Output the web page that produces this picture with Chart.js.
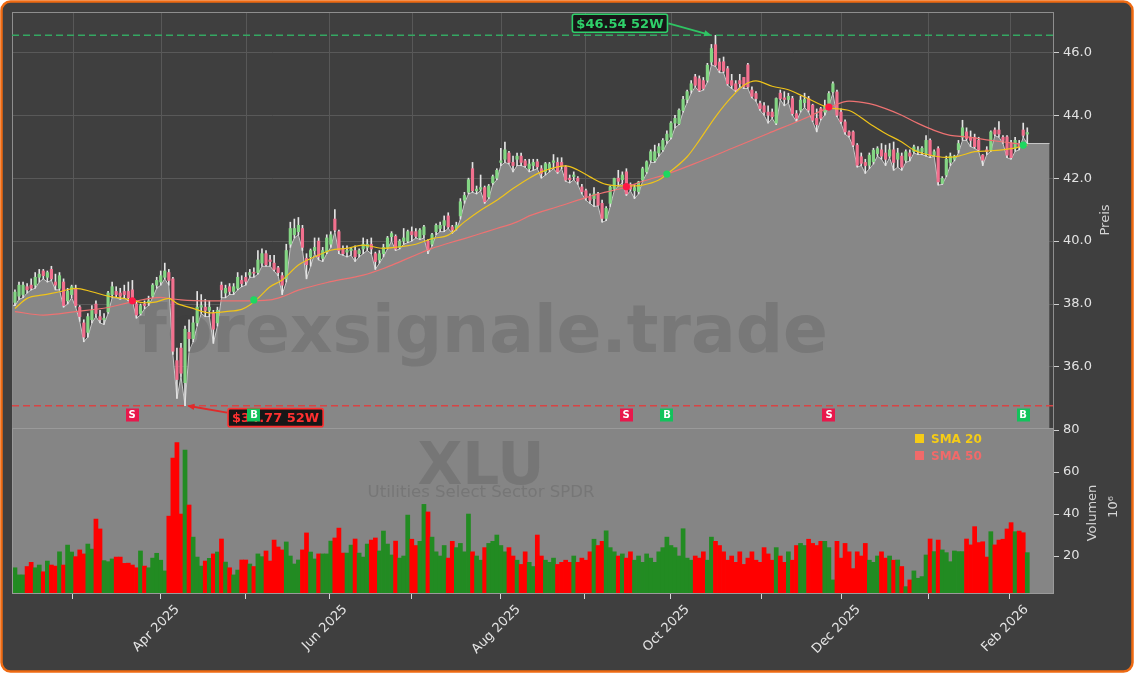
<!DOCTYPE html>
<html>
<head>
<meta charset="utf-8">
<title>XLU - Utilities Select Sector SPDR</title>
<script src="https://cdn.jsdelivr.net/npm/chart.js@4.4.1/dist/chart.umd.min.js"></script>
<style>
  html, body { margin: 0; padding: 0; background: #ffffff; }
  #wrap { width: 1134px; height: 673px; }
</style>
</head>
<body>
<div id="wrap"><canvas id="chart" width="1134" height="673"></canvas></div>
<script>
// ---- data ----
const firstDay = '2025-02-07';
const lastDay = '2026-02-06';
const holidays = ['2025-02-17', '2025-04-18', '2025-05-26', '2025-06-19', '2025-07-04',
    '2025-09-01', '2025-11-27', '2025-12-25', '2026-01-01', '2026-01-19'];

const opens = [
    38.05, 38.25, 38.3, 38.55, 38.6, 38.6, 38.85, 39.05, 38.85, 39.1, 38.7, 38.5, 38.7, 38.1, 38.3,
    38.5, 37.9, 37.4, 37.1, 37.5, 38.0, 37.6, 37.5, 37.75, 38.3, 38.4, 38.35, 38.4, 38.4, 38.45, 38.0, 37.7, 38.0, 38.05, 38.25, 38.6,
    38.7, 38.85, 39.0, 38.8, 36.2, 36.6, 35.5, 37.1, 36.9, 37.4, 37.9, 37.9, 37.8, 37.7, 37.4, 38.6, 38.35, 38.55, 38.4, 38.5, 38.75,
    38.85, 38.92, 39.0, 39.0, 39.3, 39.6, 39.4, 39.3, 39.15, 38.9, 38.8, 39.9, 40.2, 40.3, 40.4, 39.45, 39.5, 39.7, 40.0, 39.45, 39.65,
    39.9, 40.7, 40.3, 39.75, 39.65, 39.7, 39.7, 39.6, 39.75, 39.8, 39.9, 39.6, 39.4, 39.6, 39.8, 40.14, 40.15, 39.8, 40.0, 40.0,
    40.3, 40.3, 40.1, 40.2, 40.0, 39.9, 40.3, 40.4, 40.5, 40.8, 40.45, 40.4, 40.8, 41.3, 41.55, 42.3, 41.6, 41.65, 41.7, 41.4, 41.85, 42.0,
    42.5, 42.6, 42.8, 42.5, 42.6, 42.7, 42.55, 42.3, 42.4, 42.52, 42.3, 42.2, 42.3, 42.5, 42.5, 42.5, 42.36, 42.0, 42.05, 42.0, 41.72,
    41.6, 41.4, 41.35, 41.5, 41.2, 40.72, 41.2, 41.67, 42.0, 41.95, 42.2, 41.8, 41.6, 41.57, 41.94, 42.2, 42.57, 42.55, 42.8, 42.9, 43.2,
    43.3, 43.75, 43.73, 44.15, 44.5, 44.8, 45.22, 45.16, 45.1, 45.11, 45.69, 46.24, 45.69, 45.7, 45.48, 45.1, 45.0, 45.1, 45.2, 45.6, 44.8, 44.69, 44.37,
    44.3, 44.1, 44.1, 43.75, 44.7, 44.55, 44.5, 44.53, 44.05, 44.16, 44.4, 44.53, 44.32, 43.9, 44.21, 44.1, 44.37, 44.74, 44.74,
    44.1, 43.79, 43.47, 43.47, 43.05, 42.68, 42.5, 42.41, 42.52, 42.78, 42.9, 42.8, 42.7, 42.9, 42.6, 42.7, 42.57, 42.8, 42.84, 42.85, 42.84, 42.78,
    43.2, 42.73, 42.94, 41.83, 42.1, 42.5, 42.6, 42.9, 43.3, 43.47, 43.3, 43.3, 43.2, 42.73, 42.9, 42.89, 43.53, 43.53, 43.3, 43.31,
    43.1, 42.95, 43.1, 43.53, 43.4
];
const highs = [
    38.45, 38.7, 38.7, 38.65, 38.8, 39.0, 39.1, 39.1, 39.05, 39.2, 38.95, 39.0, 38.8, 38.5, 38.6,
    38.6, 37.95, 37.5, 37.7, 37.95, 38.1, 37.8, 37.7, 38.4, 38.7, 38.55, 38.5, 38.6, 38.7, 38.75, 38.1, 38.0, 38.1, 38.25, 38.65, 38.85,
    39.05, 39.3, 39.1, 38.85, 36.6, 36.75, 37.3, 37.5, 37.6, 38.4, 38.3, 38.15, 38.1, 37.8, 37.9, 38.7, 38.6, 38.65, 38.65, 39.0, 38.9,
    39.0, 39.1, 39.15, 39.7, 39.75, 39.7, 39.55, 39.55, 39.2, 39.0, 39.9, 40.6, 40.7, 40.75, 40.5, 39.6, 39.75, 40.1, 40.1, 39.8, 40.2,
    40.3, 41.0, 40.35, 39.85, 39.85, 39.8, 39.85, 39.75, 40.1, 40.05, 40.1, 39.65, 39.7, 39.9, 40.15, 40.3, 40.2, 40.05, 40.4, 40.35,
    40.45, 40.4, 40.4, 40.5, 40.05, 40.25, 40.55, 40.6, 40.8, 40.9, 40.5, 40.6, 41.35, 41.55, 42.0, 42.5, 41.75, 42.1, 41.75, 41.8, 42.1, 42.3,
    42.95, 43.15, 42.85, 42.7, 42.8, 42.8, 42.6, 42.6, 42.6, 42.6, 42.4, 42.5, 42.5, 42.75, 42.65, 42.65, 42.4, 42.1, 42.2, 42.05, 41.8,
    41.65, 41.5, 41.7, 41.55, 41.3, 41.1, 41.75, 42.0, 42.25, 42.2, 42.3, 41.85, 41.8, 41.9, 42.35, 42.55, 42.9, 43.05, 43.1, 43.26, 43.5,
    43.8, 44.0, 44.2, 44.6, 44.8, 45.1, 45.3, 45.25, 45.2, 45.65, 46.25, 46.54, 45.8, 45.85, 45.55, 45.3, 45.1, 45.3, 45.2, 45.65, 44.9, 44.75, 44.45,
    44.4, 44.3, 44.2, 44.55, 44.8, 44.75, 44.7, 44.6, 44.15, 44.6, 44.7, 44.6, 44.35, 44.2, 44.25, 44.48, 44.75, 45.06, 44.8,
    44.2, 43.85, 43.5, 43.5, 43.1, 42.8, 42.6, 42.8, 42.95, 43.0, 43.1, 43.05, 43.1, 43.15, 42.95, 42.8, 42.9, 42.9, 43.05, 43.0, 43.0, 43.35,
    43.25, 42.9, 43.0, 42.05, 42.7, 42.8, 42.73, 43.2, 43.84, 43.6, 43.5, 43.4, 43.3, 42.75, 43.0, 43.5, 43.6, 43.8, 43.35, 43.35,
    43.2, 43.3, 43.2, 43.75, 43.6
];
const lows = [
    37.95, 38.15, 38.2, 38.35, 38.45, 38.5, 38.7, 38.8, 38.7, 38.75, 38.45, 38.45, 37.9, 38.0, 38.2,
    37.9, 37.45, 36.8, 36.95, 37.4, 37.6, 37.4, 37.35, 37.7, 38.2, 38.2, 38.15, 38.2, 38.1, 38.1, 37.55, 37.65, 37.85, 37.95, 38.2, 38.5,
    38.6, 38.8, 38.6, 36.4, 35.0, 35.7, 34.77, 36.5, 36.8, 37.3, 37.7, 37.6, 37.6, 36.75, 37.3, 38.2, 38.2, 38.3, 38.3, 38.45, 38.55,
    38.6, 38.85, 38.85, 38.95, 39.2, 39.2, 39.2, 39.05, 38.9, 38.3, 38.7, 39.8, 40.1, 40.2, 39.7, 38.8, 39.2, 39.6, 39.4, 39.35, 39.6,
    39.8, 40.3, 39.6, 39.55, 39.5, 39.55, 39.35, 39.5, 39.6, 39.7, 39.6, 39.1, 39.3, 39.5, 39.75, 40.0, 39.7, 39.75, 39.9, 39.95,
    40.0, 40.1, 40.05, 40.1, 39.6, 39.85, 40.2, 40.3, 40.3, 40.4, 40.25, 40.35, 40.7, 41.2, 41.5, 41.55, 41.5, 41.6, 41.2, 41.35, 41.8, 41.95,
    42.4, 42.5, 42.45, 42.2, 42.4, 42.4, 42.35, 42.2, 42.25, 42.3, 42.0, 42.1, 42.2, 42.3, 42.15, 42.3, 41.9, 41.85, 41.95, 41.8, 41.5,
    41.3, 41.2, 41.1, 41.12, 40.6, 40.65, 41.1, 41.6, 41.75, 41.85, 41.45, 41.6, 41.35, 41.5, 41.9, 42.15, 42.5, 42.5, 42.7, 42.85, 43.1,
    43.25, 43.6, 43.7, 44.1, 44.4, 44.7, 44.9, 44.75, 44.8, 45.05, 45.6, 45.55, 45.35, 45.35, 44.95, 44.85, 44.75, 44.9, 44.85, 44.85, 44.55, 44.45, 44.15,
    44.0, 43.75, 43.9, 43.7, 44.5, 44.3, 44.4, 44.0, 43.8, 44.1, 44.25, 44.1, 43.8, 43.47, 43.85, 44.0, 44.3, 44.7, 43.95,
    43.74, 43.4, 43.3, 43.0, 42.35, 42.4, 42.15, 42.3, 42.45, 42.7, 42.6, 42.4, 42.65, 42.25, 42.35, 42.25, 42.5, 42.55, 42.8, 42.75, 42.75, 42.7,
    42.65, 42.7, 41.78, 41.8, 42.05, 42.4, 42.55, 42.8, 43.2, 43.2, 43.0, 42.95, 42.85, 42.4, 42.75, 42.85, 43.35, 43.3, 43.1, 42.65,
    42.6, 42.85, 42.9, 43.3, 43.1
];
const closes = [
    38.38, 38.6, 38.6, 38.45, 38.5, 38.85, 38.95, 38.9, 39.0, 38.8, 38.6, 38.9, 37.95, 38.4, 38.55,
    37.95, 37.6, 36.95, 37.6, 37.8, 37.7, 37.5, 37.55, 38.35, 38.55, 38.3, 38.25, 38.3, 38.2, 38.2, 37.65, 37.95, 37.95, 38.1, 38.6, 38.75,
    38.9, 39.05, 38.75, 36.5, 35.6, 35.8, 37.2, 36.9, 37.4, 37.9, 37.95, 37.8, 37.9, 37.2, 37.8, 38.45, 38.5, 38.4, 38.55, 38.85, 38.65,
    38.72, 39.0, 38.98, 39.4, 39.6, 39.25, 39.35, 39.1, 39.0, 38.6, 39.7, 40.4, 40.4, 40.5, 39.8, 39.25, 39.7, 39.8, 39.5, 39.7, 40.1,
    40.2, 40.35, 39.7, 39.6, 39.7, 39.75, 39.5, 39.7, 39.9, 39.9, 39.75, 39.35, 39.6, 39.8, 40.1, 40.24, 39.75, 40.0, 40.1, 40.3,
    40.2, 40.15, 40.35, 40.45, 39.75, 40.2, 40.5, 40.5, 40.65, 40.45, 40.35, 40.5, 41.25, 41.45, 41.95, 41.6, 41.65, 41.7, 41.25, 41.75, 42.05, 42.25,
    42.55, 42.9, 42.5, 42.4, 42.7, 42.5, 42.4, 42.45, 42.5, 42.36, 42.15, 42.46, 42.45, 42.55, 42.2, 42.4, 41.94, 41.95, 42.1, 41.9, 41.57,
    41.4, 41.3, 41.5, 41.14, 40.72, 41.04, 41.72, 41.99, 41.9, 42.1, 41.5, 41.65, 41.7, 41.88, 42.3, 42.52, 42.84, 42.84, 43.0, 43.2, 43.4,
    43.75, 43.9, 44.16, 44.5, 44.75, 45.0, 44.95, 44.79, 44.85, 45.59, 46.12, 45.59, 45.43, 45.4, 45.0, 44.95, 44.8, 45.0, 44.9, 44.9, 44.6, 44.53, 44.21,
    44.1, 44.0, 43.95, 44.53, 44.53, 44.5, 44.6, 44.05, 43.9, 44.48, 44.5, 44.16, 43.84, 43.7, 43.9, 44.3, 44.69, 45.0, 44.0,
    43.8, 43.47, 43.36, 43.05, 42.41, 42.47, 42.4, 42.73, 42.89, 42.94, 42.7, 42.6, 42.9, 42.5, 42.8, 42.35, 42.84, 42.7, 42.99, 42.9, 42.95, 43.2,
    42.73, 42.84, 41.88, 41.99, 42.6, 42.7, 42.7, 43.1, 43.6, 43.26, 43.2, 43.0, 42.9, 42.57, 42.85, 43.47, 43.4, 43.4, 43.2, 42.73,
    42.65, 43.2, 43.0, 43.36, 43.45
];
// volume in millions
const volumes = [
    14.4, 11, 11, 15, 17, 14.4, 15.7, 12.5, 17.6, 15.7, 15.2, 22, 15.7, 25.2, 21.9, 19.7, 22.9, 21, 25.7, 23.3,
    37.6, 32.9, 17.8, 17.3, 18.6, 19.5, 19.5, 16.5, 16.6, 15.7, 14.4, 22.4, 15.2, 14.4, 19, 21.3, 18, 12.9, 39, 66.7,
    74, 40, 70.5, 44.3, 29, 19.5, 15.2, 17.6, 18.9, 21, 21.9, 28.1, 17.1, 14.4, 11, 13.3, 18.1, 18.1, 16.2, 15,
    21, 19.7, 22.4, 17.6, 27.6, 24.3, 22.9, 26.7, 20, 16.2, 18.1, 22.9, 31, 21.9, 18.6, 21, 21, 21, 27.1, 28.6,
    33.3, 21.4, 21.4, 25.2, 28.1, 21.4, 19.5, 25.7, 27.6, 28.6, 22.4, 31.9, 25.7, 20.5, 27.1, 19,
    20, 39.5, 28, 25, 27, 44.6, 41, 29, 22, 20, 25, 19, 27, 24, 26, 22, 40, 22, 20, 18,
    24, 26, 27, 30, 25, 22, 24, 20, 18, 16, 22, 17, 15, 30, 20, 18, 17, 19, 16, 17,
    18, 17, 20, 17, 19, 18, 22, 28, 25, 27, 32, 24, 22, 20, 21, 19, 22, 18, 20, 17,
    21, 19, 17, 22, 24, 29, 25, 24, 20, 33, 19, 18, 20, 19, 22, 18, 29, 27, 25, 22,
    18, 20, 17, 22, 16, 19, 22, 18, 17, 24, 21, 18, 24, 20, 17, 22, 18, 25, 26, 25,
    28, 26, 25, 27, 27, 24, 8.6, 27, 19, 26, 22, 14, 22, 20, 26, 18, 17, 20, 22, 19,
    20, 18,
    18.1, 15, 5.4, 8.6, 12.9, 9.4, 10.2, 20.5, 28.1, 22.1, 27.6, 22.9, 21.6, 17.3, 22.4, 22.1, 22.1,
    28.1, 25.3, 34, 26.4, 26.8, 19.5, 31.6, 25.3, 27.6, 28, 32.9, 35.9, 31.6, 31.9, 31.1, 21.6
];

// moving averages, sampled along the curves (trading-day index, value)
const sma20Idx = [0, 3, 7, 11, 15, 19, 23, 28, 32, 35, 38, 40, 44, 48, 52, 56, 58, 60, 63, 66, 70, 74, 78, 82, 86, 91, 95, 99,
    103, 107, 111, 115, 119, 123, 127, 130, 134, 136, 139, 142, 146, 151, 155, 159, 161, 166, 169, 173, 177, 180, 183,
    187, 191, 195, 201, 206, 211, 215, 219, 222, 225, 230, 233, 237, 241, 246, 250];
const sma20Val = [37.86, 38.18, 38.29, 38.39, 38.5, 38.39, 38.25, 38.15, 38.04, 38.07, 38.18, 38.02, 37.86, 37.72, 37.76, 37.83, 37.97, 38.18, 38.55, 38.76, 39.24, 39.5, 39.71, 39.77, 39.87, 39.77, 39.82, 39.9,
    40.08, 40.19, 40.61, 40.98, 41.3, 41.67, 42.0, 42.2, 42.36, 42.39, 42.26, 42.04, 41.8, 41.75, 41.78, 41.94, 42.13, 42.68, 43.2, 43.95, 44.58, 44.95, 45.09,
    44.92, 44.81, 44.58, 44.24, 44.15, 43.74, 43.42, 43.15, 42.89, 42.76, 42.66, 42.7, 42.84, 42.87, 42.94, 43.05];
const sma50Idx = [0, 7, 15, 23, 29, 36, 38, 41, 48, 56, 63, 66, 70, 78, 86, 91, 95, 99, 103, 107, 111, 115, 119, 124, 127,
    134, 143, 151, 155, 161, 169, 177, 186, 194, 201, 206, 211, 215, 219, 223, 227, 231, 235, 241, 246, 250];
const sma50Val = [37.76, 37.65, 37.76, 37.89, 38.07, 38.21, 38.18, 38.13, 38.1, 38.1, 38.13, 38.23, 38.44, 38.71, 38.92, 39.13, 39.34, 39.56, 39.77, 39.93, 40.08, 40.24, 40.4, 40.61, 40.8,
    41.09, 41.46, 41.72, 41.9, 42.13, 42.52, 42.94, 43.42, 43.84, 44.24, 44.45, 44.37, 44.21, 44.0, 43.74, 43.52, 43.36, 43.31, 43.2, 43.12, 43.05];

// crossover signals
const sellIdx = [29, 151, 201];
const sellVal = [38.1, 41.73, 44.26];
const buyIdx = [59, 161, 249];
const buyVal = [38.13, 42.13, 43.05];

// axis ticks
const priceTicks = [36, 38, 40, 42, 44, 46];
const volumeTicks = [20, 40, 60, 80];
const monthStarts = ['2025-03-01', '2025-04-01', '2025-05-01', '2025-06-01', '2025-07-01', '2025-08-01',
    '2025-09-01', '2025-10-01', '2025-11-01', '2025-12-01', '2026-01-01', '2026-02-01'];
const monthLabels = ['', 'Apr 2025', '', 'Jun 2025', '', 'Aug 2025', '', 'Oct 2025', '', 'Dec 2025', '', 'Feb 2026'];

// ---- helpers ----
function buildTradingDays() {
    const days = [];
    const d = new Date(firstDay + 'T00:00:00Z');
    const end = new Date(lastDay + 'T00:00:00Z');
    while (d <= end) {
        const iso = d.toISOString().slice(0, 10);
        const wd = d.getUTCDay();
        if (wd !== 0 && wd !== 6 && !holidays.includes(iso)) days.push(iso);
        d.setUTCDate(d.getUTCDate() + 1);
    }
    return days;
}
const tradingDays = buildTradingDays();
if (tradingDays.length !== closes.length || volumes.length !== closes.length) {
    console.warn('length mismatch', tradingDays.length, closes.length, volumes.length);
}

// month start -> fractional trading-day index
function dateToIndex(iso) {
    const t = Date.parse(iso);
    for (let i = 0; i < tradingDays.length - 1; i++) {
        const a = Date.parse(tradingDays[i]);
        const b = Date.parse(tradingDays[i + 1]);
        if (t >= a && t < b) return i + (t - a) / (b - a);
    }
    return tradingDays.length - 1;
}
const monthPos = monthStarts.map(dateToIndex);

function roundRectPath(ctx, x, y, w, h, r) {
    ctx.beginPath();
    ctx.moveTo(x + r, y);
    ctx.arcTo(x + w, y, x + w, y + h, r);
    ctx.arcTo(x + w, y + h, x, y + h, r);
    ctx.arcTo(x, y + h, x, y, r);
    ctx.arcTo(x, y, x + w, y, r);
    ctx.closePath();
}

function arrow(ctx, x1, y1, x2, y2, color) {
    const ang = Math.atan2(y2 - y1, x2 - x1);
    const head = 8;
    ctx.strokeStyle = color;
    ctx.fillStyle = color;
    ctx.lineWidth = 1.8;
    ctx.beginPath();
    ctx.moveTo(x1, y1);
    ctx.lineTo(x2 - Math.cos(ang) * head * 0.8, y2 - Math.sin(ang) * head * 0.8);
    ctx.stroke();
    ctx.beginPath();
    ctx.moveTo(x2, y2);
    ctx.lineTo(x2 - head * Math.cos(ang - 0.4), y2 - head * Math.sin(ang - 0.4));
    ctx.lineTo(x2 - head * Math.cos(ang + 0.4), y2 - head * Math.sin(ang + 0.4));
    ctx.closePath();
    ctx.fill();
}

function tag(ctx, text, x, y, color) {
    ctx.font = 'bold 13px "DejaVu Sans"';
    const w = ctx.measureText(text).width + 8;
    const h = 18;
    roundRectPath(ctx, x, y, w, h, 2);
    ctx.fillStyle = '#171717';
    ctx.fill();
    ctx.lineWidth = 1.6;
    ctx.strokeStyle = color;
    ctx.stroke();
    ctx.fillStyle = color;
    ctx.textAlign = 'left';
    ctx.textBaseline = 'middle';
    ctx.fillText(text, x + 4, y + h / 2 + 1);
    return w;
}

function fitFont(ctx, text, weight, width) {
    ctx.font = weight + ' 100px "DejaVu Sans"';
    return 100 * width / ctx.measureText(text).width;
}

const FONT = '"DejaVu Sans", sans-serif';
const UP = '#84d684';
const DOWN = '#f2708e';
const WICK = '#e4e4e4';
const VOL_UP = '#228b22';
const VOL_DOWN = '#ff0000';

const high52 = Math.max(...highs);
const low52 = Math.min(...lows);
const high52Idx = highs.indexOf(high52);
const low52Idx = lows.indexOf(low52);

const X_MIN = -0.73;
const X_MAX = 256.6;
const FILL_END = 255.5;

// ---- custom drawing ----
const decor = {
    id: 'decor',
    beforeDraw(chart) {
        const { ctx, chartArea: a } = chart;
        const yv = chart.scales.yVol;
        ctx.save();
        ctx.fillStyle = '#ffffff';
        ctx.fillRect(0, 0, chart.width, chart.height);
        roundRectPath(ctx, 1.5, 1.5, chart.width - 3, chart.height - 3, 9);
        ctx.fillStyle = '#3f3f3f';
        ctx.fill();
        ctx.lineWidth = 2.5;
        ctx.strokeStyle = '#ee6a12';
        ctx.stroke();
        ctx.fillStyle = '#858585';
        ctx.fillRect(a.left, yv.top, a.right - a.left, yv.bottom - yv.top);
        ctx.restore();
    },
    beforeDatasetsDraw(chart) {
        const { ctx } = chart;
        const xs = chart.scales.x, yp = chart.scales.yPrice, yv = chart.scales.yVol;
        ctx.save();
        ctx.strokeStyle = '#585858';
        ctx.lineWidth = 1;
        monthPos.forEach(v => {
            const px = Math.round(xs.getPixelForValue(v)) + 0.5;
            ctx.beginPath();
            ctx.moveTo(px, yp.top);
            ctx.lineTo(px, yp.bottom);
            ctx.stroke();
        });
        // ticker watermark in the volume panel
        const cx = 481;
        ctx.fillStyle = 'rgba(60,60,60,0.2)';
        ctx.textAlign = 'center';
        ctx.textBaseline = 'alphabetic';
        let s = fitFont(ctx, 'XLU', 'bold', 127);
        ctx.font = 'bold ' + s + 'px "DejaVu Sans"';
        ctx.fillText('XLU', cx, yv.top + 56);
        s = fitFont(ctx, 'Utilities Select Sector SPDR', 'normal', 227);
        ctx.font = s + 'px "DejaVu Sans"';
        ctx.fillText('Utilities Select Sector SPDR', cx, yv.top + 69);
        ctx.restore();
    },
    afterDatasetDraw(chart, args) {
        if (args.index !== 0) return;
        const ctx = chart.ctx;
        ctx.save();
        const text = 'forexsignale.trade';
        const s = fitFont(ctx, text, 'bold', 690);
        ctx.font = 'bold ' + s + 'px "DejaVu Sans"';
        ctx.fillStyle = 'rgba(60,60,60,0.2)';
        ctx.textAlign = 'center';
        ctx.textBaseline = 'alphabetic';
        ctx.fillText(text, 483, 352);
        ctx.restore();
    },
    afterDraw(chart) {
        const { ctx, chartArea: a } = chart;
        const xs = chart.scales.x, yp = chart.scales.yPrice, yv = chart.scales.yVol;
        ctx.save();

        // panel frames
        ctx.strokeStyle = '#8e8e8e';
        ctx.lineWidth = 1;
        ctx.strokeRect(a.left + 0.5, yp.top + 0.5, a.right - a.left - 1, yp.bottom - yp.top);
        ctx.strokeStyle = '#9a9a9a';
        ctx.strokeRect(a.left + 0.5, yv.top + 0.5, a.right - a.left - 1, yv.bottom - yv.top - 1);

        // 52 week lines
        const yHi = yp.getPixelForValue(high52);
        const yLo = yp.getPixelForValue(low52);
        ctx.lineWidth = 1.5;
        ctx.setLineDash([7, 4]);
        ctx.strokeStyle = '#34a862';
        ctx.beginPath(); ctx.moveTo(a.left, yHi); ctx.lineTo(a.right, yHi); ctx.stroke();
        ctx.strokeStyle = '#d84444';
        ctx.beginPath(); ctx.moveTo(a.left, yLo); ctx.lineTo(a.right, yLo); ctx.stroke();
        ctx.setLineDash([]);

        // 52 week tags with arrows
        const xHi = xs.getPixelForValue(high52Idx) - 4;
        const xLo = xs.getPixelForValue(low52Idx) + 2;
        const hiText = '$' + high52.toFixed(2) + ' 52W';
        ctx.font = 'bold 13px "DejaVu Sans"';
        const hiW = ctx.measureText(hiText).width + 8;
        const hiBoxX = xHi - 44 - hiW, hiBoxY = yHi - 21;
        arrow(ctx, hiBoxX + hiW + 1, hiBoxY + 9, xHi, yHi, '#2fc463');
        tag(ctx, hiText, hiBoxX, hiBoxY, '#2fd06a');
        const loBoxX = xLo + 41, loBoxY = yLo + 3;
        arrow(ctx, loBoxX - 1, loBoxY + 4, xLo, yLo, '#e02a2a');
        tag(ctx, '$' + low52.toFixed(2) + ' 52W', loBoxX, loBoxY, '#ff3030');

        // signal tags along the bottom of the price panel
        const tagY = yp.bottom - 13;
        const sig = (idx, letter, color) => {
            const px = xs.getPixelForValue(idx);
            ctx.fillStyle = color;
            ctx.fillRect(Math.round(px - 6.5), tagY - 6.5, 13, 13);
            ctx.fillStyle = '#ffffff';
            ctx.font = 'bold 10px "DejaVu Sans"';
            ctx.textAlign = 'center';
            ctx.textBaseline = 'middle';
            ctx.fillText(letter, Math.round(px), tagY + 0.5);
        };
        sellIdx.forEach(i => sig(i, 'S', '#e8184c'));
        buyIdx.forEach(i => sig(i, 'B', '#12c35c'));

        // legend
        const lx = a.right - 139, ly = yv.top + 6;
        ctx.font = 'bold 12px "DejaVu Sans"';
        ctx.textAlign = 'left';
        ctx.textBaseline = 'alphabetic';
        ctx.fillStyle = '#f5cc16';
        ctx.fillRect(lx, ly, 9, 9);
        ctx.fillText('SMA 20', lx + 16, ly + 9);
        ctx.fillStyle = '#f06a6a';
        ctx.fillRect(lx, ly + 17, 9, 9);
        ctx.fillText('SMA 50', lx + 16, ly + 26);

        // axis titles
        ctx.fillStyle = '#d4d4d4';
        ctx.font = '13px "DejaVu Sans"';
        ctx.textAlign = 'center';
        ctx.textBaseline = 'middle';
        const vert = (text, x, y) => {
            ctx.save();
            ctx.translate(x, y);
            ctx.rotate(-Math.PI / 2);
            ctx.fillText(text, 0, 0);
            ctx.restore();
        };
        vert('Preis', 1106, (yp.top + yp.bottom) / 2);
        vert('Volumen', 1093, (yv.top + yv.bottom) / 2 + 2);
        vert('10\u2076', 1114, (yv.top + yv.bottom) / 2 - 4);

        // rotated month labels, centred under their tick like matplotlib
        ctx.fillStyle = '#e4e4e4';
        ctx.font = '13px "DejaVu Sans"';
        ctx.textAlign = 'left';
        ctx.textBaseline = 'alphabetic';
        const h = 11;
        monthPos.forEach((v, k) => {
            const label = monthLabels[k];
            if (!label) return;
            const w = ctx.measureText(label).width;
            const tx = xs.getPixelForValue(v);
            const sx = tx - 6 - 0.3536 * (w - h);
            const sy = a.bottom + 8 + 0.7071 * (w + h);
            ctx.save();
            ctx.translate(sx, sy);
            ctx.rotate(-Math.PI / 4);
            ctx.fillText(label, 0, 0);
            ctx.restore();
        });
        ctx.restore();
    }
};

// ---- datasets ----
const idx = closes.map((_, i) => i);
const areaData = [{ x: X_MIN, y: lows[0] }]
    .concat(lows.map((v, i) => ({ x: i, y: v })))
    .concat([{ x: FILL_END, y: lows[lows.length - 1] }]);

Chart.defaults.font.family = FONT;

new Chart(document.getElementById('chart'), {
    type: 'bar',
    data: {
        datasets: [
            {
                type: 'line', label: 'Low', data: areaData, yAxisID: 'yPrice',
                borderColor: '#c9c9c9', borderWidth: 1, backgroundColor: '#878787',
                fill: 'start', pointRadius: 0, tension: 0, order: 10
            },
            {
                label: 'Volumen', data: idx.map(i => ({ x: i, y: volumes[i] })), yAxisID: 'yVol',
                backgroundColor: idx.map(i => closes[i] >= opens[i] ? VOL_UP : VOL_DOWN),
                barPercentage: 1, categoryPercentage: 1, grouped: false, borderWidth: 0, order: 9
            },
            {
                label: 'Wick', data: idx.map(i => ({ x: i, y: [lows[i], highs[i]] })), yAxisID: 'yPrice',
                backgroundColor: WICK,
                barThickness: 1, grouped: false, borderWidth: 0, order: 8
            },
            {
                label: 'Body', data: idx.map(i => ({ x: i, y: [opens[i], closes[i]] })), yAxisID: 'yPrice',
                backgroundColor: idx.map(i => closes[i] >= opens[i] ? UP : DOWN),
                barThickness: 2.5, minBarLength: 1, grouped: false, borderWidth: 0, order: 7
            },
            {
                type: 'line', label: 'SMA 50', data: sma50Idx.map((x, k) => ({ x, y: sma50Val[k] })), yAxisID: 'yPrice',
                borderColor: '#ee7272', borderWidth: 1.2, pointRadius: 0, cubicInterpolationMode: 'monotone', fill: false, order: 6
            },
            {
                type: 'line', label: 'SMA 20', data: sma20Idx.map((x, k) => ({ x, y: sma20Val[k] })), yAxisID: 'yPrice',
                borderColor: '#f0c419', borderWidth: 1.2, pointRadius: 0, cubicInterpolationMode: 'monotone', fill: false, order: 5
            },
            {
                type: 'line', label: 'Sell', data: sellIdx.map((x, k) => ({ x, y: sellVal[k] })), yAxisID: 'yPrice',
                showLine: false, pointRadius: 3.6, pointBackgroundColor: '#ff1744', pointBorderWidth: 0, order: 2
            },
            {
                type: 'line', label: 'Buy', data: buyIdx.map((x, k) => ({ x, y: buyVal[k] })), yAxisID: 'yPrice',
                showLine: false, pointRadius: 3.6, pointBackgroundColor: '#1ed760', pointBorderWidth: 0, order: 1
            }
        ]
    },
    options: {
        responsive: false,
        animation: false,
        events: [],
        layout: { padding: { left: 12, right: 10, top: 12, bottom: 0 } },
        plugins: { legend: { display: false }, tooltip: { enabled: false } },
        scales: {
            x: {
                type: 'linear', position: 'bottom', min: X_MIN, max: X_MAX, offset: false,
                grid: { drawOnChartArea: false, drawTicks: true, tickLength: 5, color: '#d8d8d8', offset: false },
                border: { display: false },
                ticks: { display: false },
                afterBuildTicks: s => { s.ticks = monthPos.map(v => ({ value: v })); },
                afterFit: s => { s.height = 79; }
            },
            yPrice: {
                type: 'linear', position: 'right', stack: 'panels', stackWeight: 416,
                min: 34.06, max: 47.28, beginAtZero: false,
                grid: { color: '#595959', tickColor: '#d0d0d0', tickLength: 5 },
                border: { display: false },
                ticks: { color: '#e2e2e2', font: { size: 13 }, padding: 4, callback: v => v.toFixed(1) },
                afterBuildTicks: s => { s.ticks = priceTicks.map(v => ({ value: v })); },
                afterFit: s => { s.width = 70; }
            },
            yVol: {
                type: 'linear', position: 'right', stack: 'panels', stackWeight: 166,
                min: 1.9, max: 81, beginAtZero: false,
                grid: { drawOnChartArea: false, tickColor: '#d0d0d0', tickLength: 5 },
                border: { display: false },
                ticks: { color: '#e2e2e2', font: { size: 13 }, padding: 4, callback: v => String(v) },
                afterBuildTicks: s => { s.ticks = volumeTicks.map(v => ({ value: v })); },
                afterFit: s => { s.width = 70; }
            }
        }
    },
    plugins: [decor]
});
</script>
</body>
</html>
